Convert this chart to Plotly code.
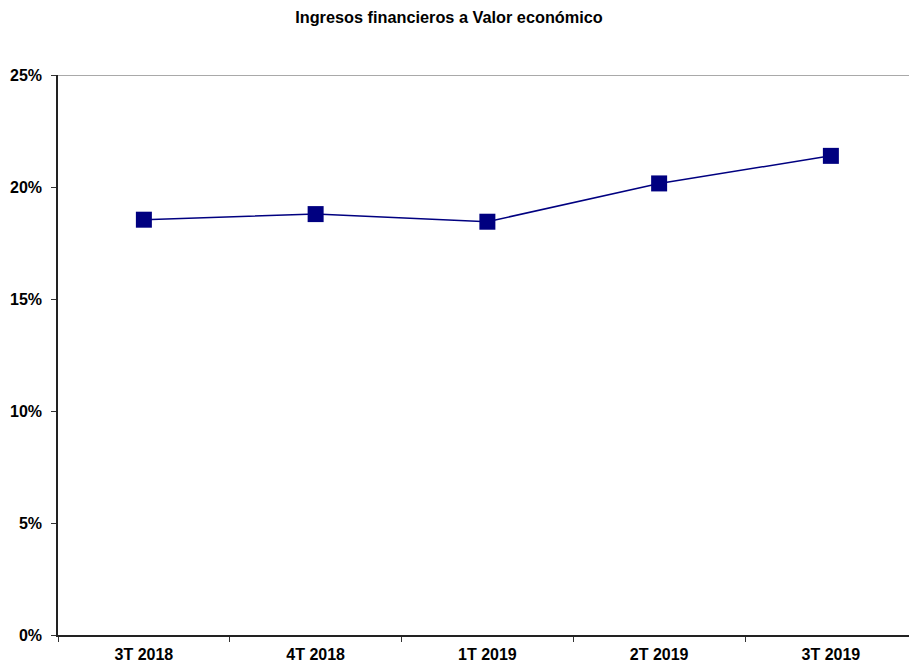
import plotly.graph_objects as go

categories = ["3T 2018", "4T 2018", "1T 2019", "2T 2019", "3T 2019"]
values = [18.54, 18.79, 18.45, 20.16, 21.39]
y_ticks = [0, 5, 10, 15, 20, 25]
y_tick_labels = ["0%", "5%", "10%", "15%", "20%", "25%"]
title_text = "Ingresos financieros a Valor económico"

navy = "#000080"
font_family = "Liberation Sans, Arial, sans-serif"

fig = go.Figure()
fig.add_trace(go.Scatter(
    x=categories, y=values, mode="lines+markers",
    line=dict(color=navy, width=1.5),
    marker=dict(symbol="square", size=16, color=navy),
    showlegend=False, cliponaxis=False,
))

fig.add_shape(type="line", xref="paper", yref="y", x0=0, x1=1, y0=25, y1=25,
              line=dict(color="#8c8c8c", width=1.5))

fig.update_layout(
    width=909, height=668,
    margin=dict(l=58, r=0, t=74.5, b=32.5),
    paper_bgcolor="white", plot_bgcolor="white",
    font=dict(family=font_family, color="black"),
    title=dict(text="<b>" + title_text + "</b>", x=449/909, xanchor="center",
               y=1 - 17/668, yanchor="middle", yref="container",
               font=dict(size=16.3, family=font_family, color="black")),
)
fig.update_xaxes(
    type="category", range=[-0.5, -0.5 + 851/171.75],
    tickson="boundaries", ticks="outside", ticklen=5, tickcolor="#333333",
    showline=True, linecolor="#222222", linewidth=1.5, showgrid=False,
    tickfont=dict(size=16, family=font_family, color="black"),
    tickprefix="<b>", ticksuffix="</b>", ticklabelstandoff=4,
)
fig.update_yaxes(
    range=[0, 25], tickvals=y_ticks, ticktext=["<b>" + t + "</b>" for t in y_tick_labels],
    ticks="outside", ticklen=5, tickcolor="#333333",
    showline=True, linecolor="#222222", linewidth=1.5, showgrid=False, zeroline=False,
    tickfont=dict(size=16, family=font_family, color="black"),
    ticklabelstandoff=6,
)

fig.write_html("out.html")
